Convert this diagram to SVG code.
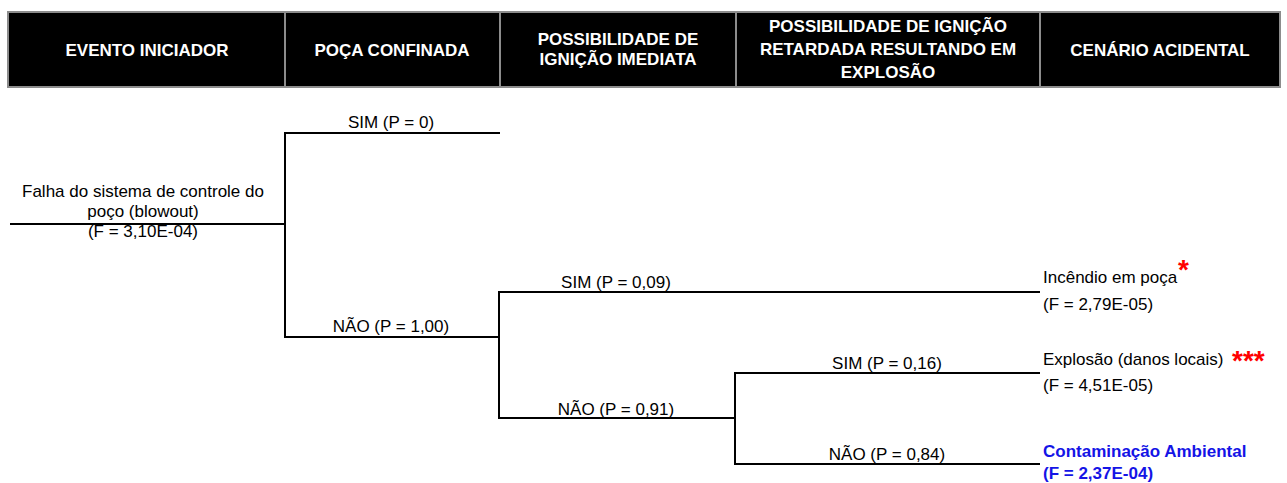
<svg xmlns="http://www.w3.org/2000/svg" width="1287" height="483" viewBox="0 0 1287 483">
<style>
.hdr{font-family:"Liberation Sans",Arial,sans-serif;font-size:17px;font-weight:bold;fill:#fff;text-anchor:middle}
.lbl{font-family:"Liberation Sans",Arial,sans-serif;font-size:17px;fill:#000}
.mid{text-anchor:middle}
.blue{font-weight:bold;fill:#1414e6}
.ast{font-family:"Liberation Sans",Arial,sans-serif;font-size:28px;font-weight:bold;fill:#ff0000}
.br{stroke:#000;stroke-width:2;fill:none}
.sep{stroke:#8c8c8c;stroke-width:2}
</style>
<rect width="1287" height="483" fill="#fff"/>
<g id="header">
<rect x="8" y="12" width="1272" height="75" fill="#000" stroke="#8c8c8c" stroke-width="2"/>
<line class="sep" x1="285" y1="12" x2="285" y2="87"/>
<line class="sep" x1="500" y1="12" x2="500" y2="87"/>
<line class="sep" x1="736" y1="12" x2="736" y2="87"/>
<line class="sep" x1="1040" y1="12" x2="1040" y2="87"/>
<text class="hdr" x="147" y="55.5">EVENTO INICIADOR</text>
<text class="hdr" x="392" y="55.5">POÇA CONFINADA</text>
<text class="hdr" x="618" y="45">POSSIBILIDADE DE</text>
<text class="hdr" x="618" y="65">IGNIÇÃO IMEDIATA</text>
<text class="hdr" x="888" y="32">POSSIBILIDADE DE IGNIÇÃO</text>
<text class="hdr" x="888" y="55">RETARDADA RESULTANDO EM</text>
<text class="hdr" x="888" y="78">EXPLOSÃO</text>
<text class="hdr" x="1160" y="55.5">CENÁRIO ACIDENTAL</text>
</g>
<g id="connectors">
<path class="br" d="M10 224H285"/>
<path class="br" d="M500 133H285V337H499"/>
<path class="br" d="M1040 292H499V418H735"/>
<path class="br" d="M1040 373H735V464H1040"/>
</g>
<g id="evento">
<text class="lbl mid" x="143" y="197">Falha do sistema de controle do</text>
<text class="lbl mid" x="143" y="217">poço (blowout)</text>
<text class="lbl mid" x="143" y="237">(F = 3,10E-04)</text>
</g>
<g id="poca-sim"><text class="lbl mid" x="391" y="128">SIM (P = 0)</text></g>
<g id="poca-nao"><text class="lbl mid" x="391" y="332">NÃO (P = 1,00)</text></g>
<g id="imediata-sim"><text class="lbl mid" x="616" y="288">SIM (P = 0,09)</text></g>
<g id="imediata-nao"><text class="lbl mid" x="616" y="415">NÃO (P = 0,91)</text></g>
<g id="retardada-sim"><text class="lbl mid" x="887" y="369">SIM (P = 0,16)</text></g>
<g id="retardada-nao"><text class="lbl mid" x="887" y="460">NÃO (P = 0,84)</text></g>
<g id="incendio">
<text class="lbl" x="1043" y="283">Incêndio em poça</text>
<text class="ast" x="1178" y="279">*</text>
<text class="lbl" x="1043" y="310">(F = 2,79E-05)</text>
</g>
<g id="explosao">
<text class="lbl" x="1043" y="365">Explosão (danos locais)</text>
<text class="ast" x="1232" y="370">***</text>
<text class="lbl" x="1043" y="391">(F = 4,51E-05)</text>
</g>
<g id="contaminacao">
<text class="lbl blue" x="1043" y="457">Contaminação Ambiental</text>
<text class="lbl blue" x="1043" y="479">(F = 2,37E-04)</text>
</g>
</svg>
